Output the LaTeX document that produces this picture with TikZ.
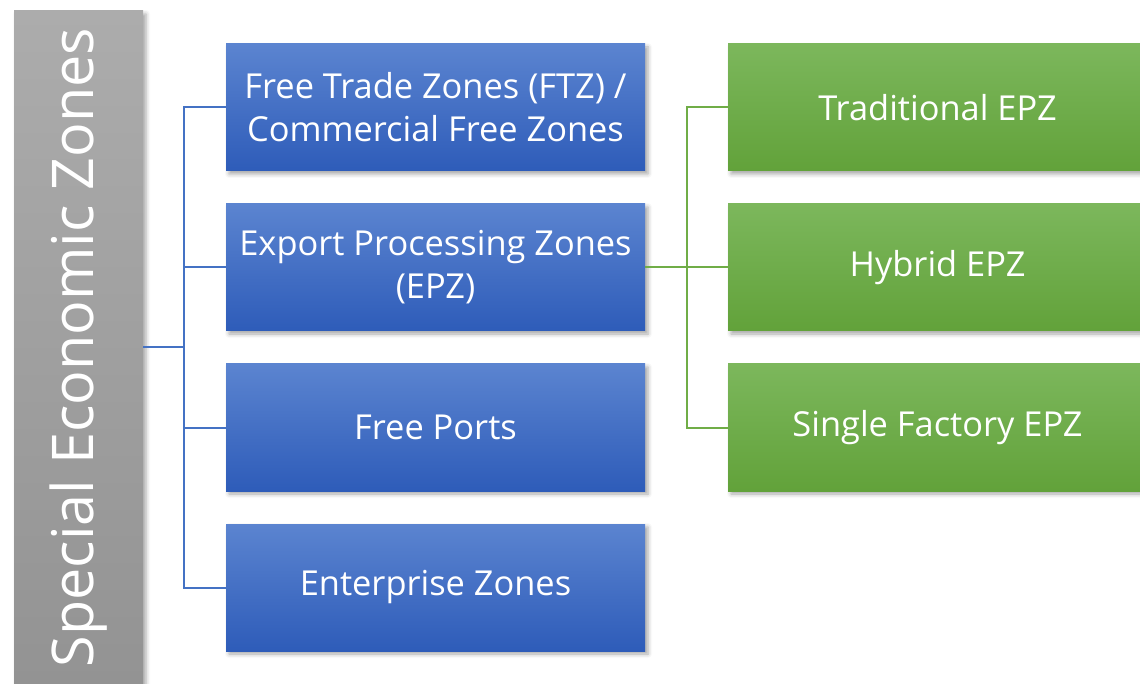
\documentclass[tikz,border=0pt]{standalone}
\usepackage{fontspec}
\setmainfont{Open Sans}
\usetikzlibrary{shadows.blur}
\definecolor{blueTop}{HTML}{5B84D0}
\definecolor{blueBot}{HTML}{2E5CB9}
\definecolor{greenTop}{HTML}{7CB75C}
\definecolor{greenBot}{HTML}{62A23A}
\definecolor{grayTop}{HTML}{ACACAC}
\definecolor{grayBot}{HTML}{939393}
\definecolor{blueLine}{HTML}{4472C4}
\definecolor{greenLine}{HTML}{70AD47}
\tikzset{
  x=1pt, y=-1pt,
  shade/.style={blur shadow={shadow xshift=3pt, shadow yshift=-3pt, shadow blur radius=4pt, shadow opacity=35}},
  box/.style={shade, minimum width=419pt, minimum height=127pt, inner sep=0pt, align=center, text=white,
    font=\fontsize{34.4}{43}\selectfont},
  bluebox/.style={box, top color=blueTop, bottom color=blueBot},
  greenbox/.style={box, top color=greenTop, bottom color=greenBot},
  bar/.style={shade, minimum width=129pt, minimum height=673pt, inner sep=0pt, top color=grayTop, bottom color=grayBot},
  bartext/.style={rotate=90, text=white, font=\fontsize{57.5}{58}\selectfont, inner sep=0pt},
  bline/.style={draw=blueLine, line width=2pt},
  gline/.style={draw=greenLine, line width=2pt},
}
\begin{document}
\begin{tikzpicture}
\useasboundingbox (0,0) rectangle (1140,684);
\clip (0,0) rectangle (1140,684);
\node[bar] (sez) at (78.5,347.5) {};
\node[bartext] (sezlabel) at (79,347.5) {Special Economic Zones};
\node[bluebox] (b1) at (435.5,107.5) {Free Trade Zones (FTZ) /\\Commercial Free Zones};
\node[bluebox] (b2) at (435.5,267.5) {Export Processing Zones\\(EPZ)};
\node[bluebox] (b3) at (435.5,427.5) {Free Ports};
\node[bluebox] (b4) at (435.5,587.5) {Enterprise Zones};
\node[greenbox] (g1) at (937.5,107.5) {Traditional EPZ};
\node[greenbox] (g2) at (937.5,267.5) {Hybrid EPZ};
\node[greenbox] (g3) at (937.5,427.5) {Single Factory EPZ};
\coordinate (bj) at (184,347.5);
\coordinate (gj) at (687,267.5);
\draw[bline] (sez.east) -- (bj);
\draw[bline] (bj) |- (b1.west);
\draw[bline] (bj) |- (b2.west);
\draw[bline] (bj) |- (b3.west);
\draw[bline] (bj) |- (b4.west);
\draw[gline] (b2.east) -- (gj);
\draw[gline] (gj) |- (g1.west);
\draw[gline] (gj) |- (g2.west);
\draw[gline] (gj) |- (g3.west);
\end{tikzpicture}
\end{document}
